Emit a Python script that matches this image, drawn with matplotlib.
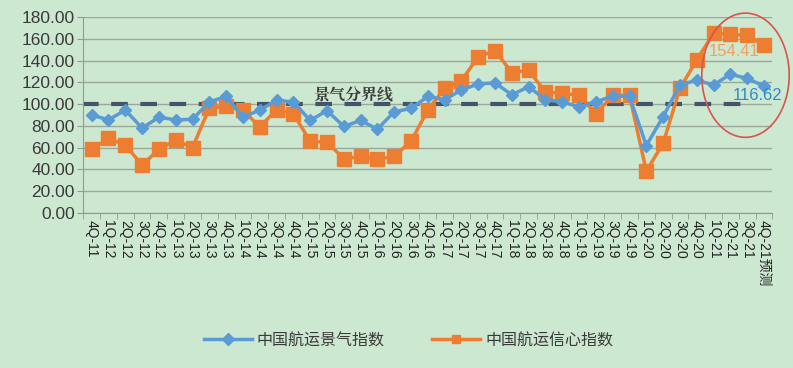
import numpy as np
import matplotlib
matplotlib.use("Agg")
import matplotlib.pyplot as plt
from matplotlib.patches import Ellipse

plt.rcParams['font.family'] = ['Liberation Sans', 'Noto Sans CJK SC', 'DejaVu Sans']

# quarters 4Q-11 .. 4Q-21 (forecast)
quarters = ['4Q-11'] + ['%dQ-%d' % (q, y) for y in range(12, 22) for q in (1, 2, 3, 4)]
quarters[-1] = '4Q-21预测'

# 中国航运景气指数
climate = [90, 85.5, 94.5, 78, 88, 85.5, 86, 102, 107,
           88, 94.5, 103.5, 102, 85, 94, 79.5, 85, 77, 93, 96, 107,
           104, 113, 118.5, 119.5, 108.5, 116, 104, 102, 97.5, 102, 107.5, 107,
           62, 88.5, 117.5, 122, 117.5, 127.5, 123.5, 116.62]
# 中国航运信心指数
confidence = [58.5, 68.5, 62.5, 44, 58.5, 67, 60, 96.5, 98,
              94.5, 79, 95, 91, 66, 65, 50, 52, 49.5, 52, 66, 94.5,
              114.5, 121.5, 143.5, 149, 129, 131, 111, 110, 108, 91, 108, 108,
              38.5, 64, 114.5, 140.5, 165, 164, 163, 154.41]
boundary_value = 100

bg = '#cde8d1'
blue = '#5b9bd5'
orange = '#ed7d31'

fig = plt.figure(figsize=(7.93, 3.68), dpi=100, facecolor=bg)
ax = fig.add_axes([0.105, 0.421, 0.869, 0.533], facecolor=bg)

x = np.arange(len(quarters))

# boundary line
ax.plot([-0.6, 39], [boundary_value, boundary_value], color='#44546a', lw=3,
        dashes=(4, 3), zorder=2)
ax.text(13.2, boundary_value + 3.5, '景气分界线', fontsize=11.5, fontweight='bold',
        color='#3a3a3a', family=['Noto Serif CJK SC', 'Noto Sans CJK SC'], zorder=5)

ax.plot(x, climate, color=blue, lw=2.5, marker='D', ms=6.5, zorder=4,
        label='中国航运景气指数')
ax.plot(x, confidence, color=orange, lw=2.5, marker='s', ms=9.5, zorder=3,
        label='中国航运信心指数')

ax.text(38.2, 148.5, '%.2f' % confidence[-1], color='#f0a060', fontsize=12,
        ha='center', va='center', zorder=6)
ax.text(39.6, 108, '%.2f' % climate[-1], color='#2e8bc9', fontsize=12,
        ha='center', va='center', zorder=6)

ell = Ellipse((38.9, 126.5), 5.2, 114, fill=False, edgecolor='#d9534f', lw=1.2,
              clip_on=False, zorder=6)
ax.add_patch(ell)

ax.set_xlim(-0.5, len(quarters) - 0.5)
ax.set_ylim(0, 180)
ax.set_yticks(np.arange(0, 181, 20))
ax.set_yticklabels(['%.2f' % v for v in np.arange(0, 181, 20)], fontsize=12.5, color='#3a3a3a')
ax.yaxis.grid(True, color='#9aa89c', lw=1)
ax.set_axisbelow(True)

ax.set_xticks(x)
ax.set_xticklabels(quarters, rotation=-90, fontsize=10, color='#222222')
ax.set_xticks(np.arange(-0.5, len(quarters), 1), minor=True)
ax.tick_params(axis='x', which='major', length=0, pad=5)
ax.tick_params(axis='x', which='minor', length=4, color='#8f9c91')
ax.tick_params(axis='y', length=4, color='#8f9c91', pad=2)

for s in ['top', 'right']:
    ax.spines[s].set_visible(False)
ax.spines['left'].set_color('#8f9c91')
ax.spines['bottom'].set_color('#8f9c91')

leg = fig.legend(loc='center', bbox_to_anchor=(0.515, 0.075), ncol=2, frameon=False,
                 fontsize=11.5, handlelength=3, columnspacing=3, handletextpad=0.3)
for t in leg.get_texts():
    t.set_color('#3a3a3a')
for h in leg.legend_handles:
    h.set_markersize(6)

fig.savefig('out.png', dpi=100, facecolor=bg)
